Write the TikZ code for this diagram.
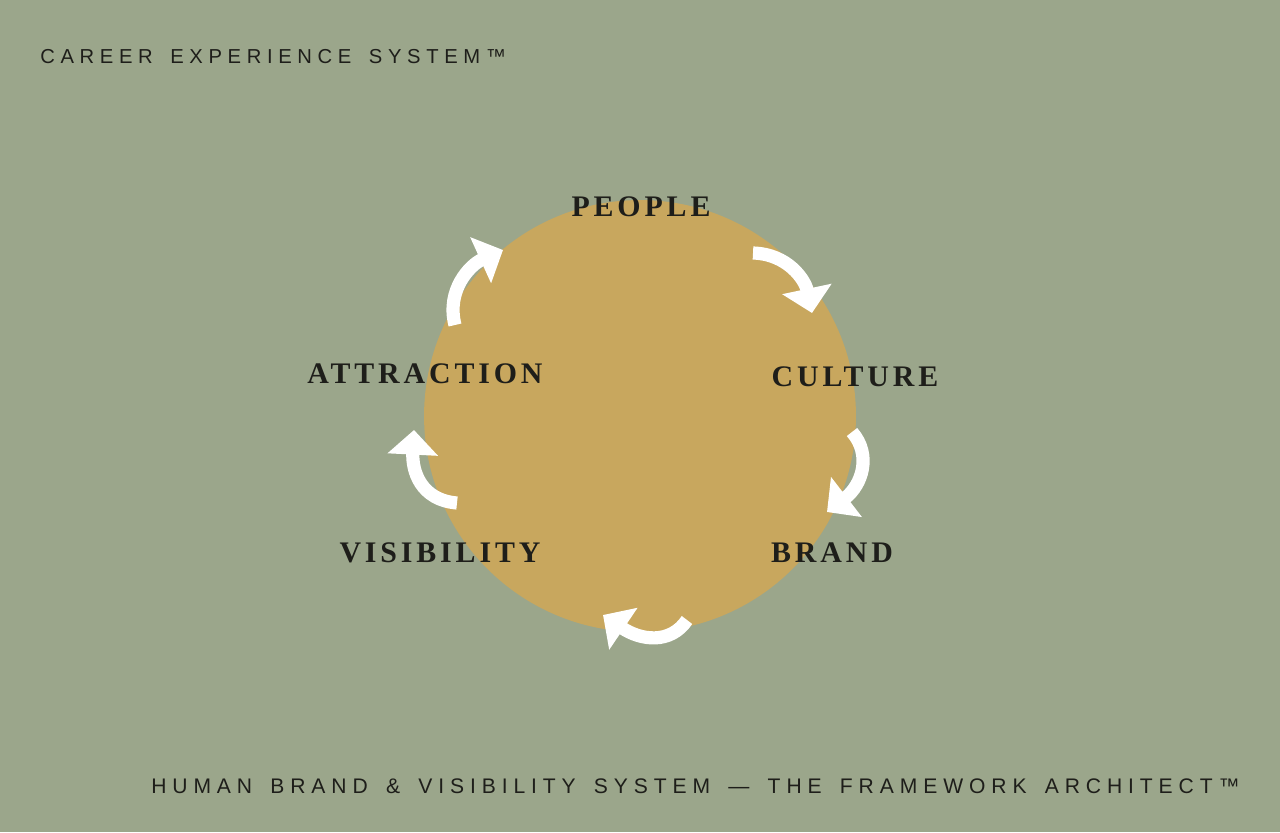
\documentclass[tikz,border=0pt]{standalone}
\usepackage{fontspec}
\setmainfont{Liberation Serif}
\newfontfamily\stagefont[LetterSpace=13]{Liberation Serif}
\newfontfamily\capsfont[LetterSpace=28, WordSpace=1.55]{Liberation Sans}
\usetikzlibrary{arrows.meta}
\definecolor{sage}{HTML}{9BA68B}
\definecolor{ochre}{HTML}{C8A75E}
\definecolor{ink}{HTML}{1E1E1A}

\begin{document}
\begin{tikzpicture}[x=0.02cm, y=-0.02cm,
  stage/.style={font=\stagefont\bfseries\fontsize{17}{20}\selectfont, text=ink, inner sep=0pt},
  caption/.style={font=\capsfont\fontsize{11.5}{14}\selectfont, text=ink, inner sep=0pt},
  flow/.style={draw=white, line width=7.5pt, -{Triangle[length=14pt, width=28pt]}}]
  \fill[sage] (0,0) rectangle (1280,832);
  \useasboundingbox (0,0) rectangle (1280,832);

  \node[circle, fill=ochre, minimum size=8.64cm, inner sep=0pt] (hub) at (640,416) {};

  \node[caption, anchor=west] (title) at (40,57) {CAREER EXPERIENCE SYSTEM™};
  \node[caption, anchor=east, font=\capsfont\fontsize{12}{14}\selectfont] (footer) at (1240,786)
    {HUMAN BRAND \& VISIBILITY SYSTEM — THE FRAMEWORK ARCHITECT™};

  % the five stages
  \node[stage] (people) at (641,207) {PEOPLE};
  \node[stage] (culture) at (855,377) {CULTURE};
  \node[stage] (brand) at (832,553) {BRAND};
  \node[stage] (visibility) at (440,553) {VISIBILITY};
  \node[stage] (attraction) at (425,374) {ATTRACTION};

  % arrow ends
  \coordinate (pc1) at (753,253);  \coordinate (pc2) at (812,313);
  \coordinate (cb1) at (852,432);  \coordinate (cb2) at (827,512);
  \coordinate (bv1) at (687,620);  \coordinate (bv2) at (603,615);
  \coordinate (va1) at (457,503);  \coordinate (va2) at (414,430);
  \coordinate (ap1) at (455,325);  \coordinate (ap2) at (503,250);

  \draw[flow] (pc1) .. controls (788,254) and (805,280) .. (pc2);
  \draw[flow] (cb1) .. controls (872,455) and (862,485) .. (cb2);
  \draw[flow] (bv1) .. controls (670,645) and (640,640) .. (bv2);
  \draw[flow] (va1) .. controls (420,500) and (412,470) .. (va2);
  \draw[flow] (ap1) .. controls (446,290) and (470,265) .. (ap2);
\end{tikzpicture}
\end{document}
